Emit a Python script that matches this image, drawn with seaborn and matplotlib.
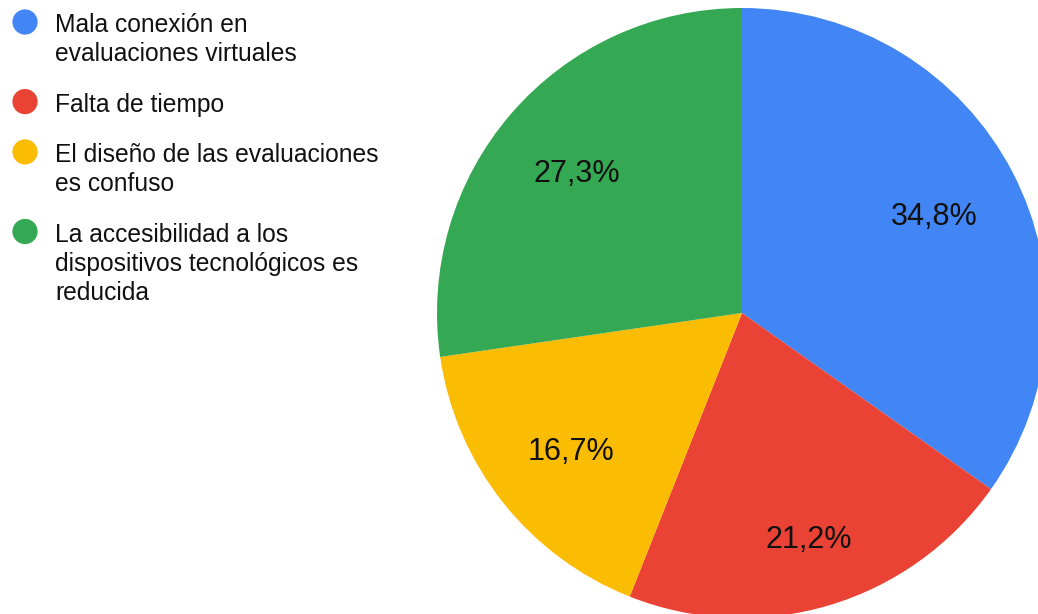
import numpy as np
import matplotlib
matplotlib.use("Agg")
import matplotlib.pyplot as plt
import seaborn as sns

# Data
categorias = [
    "Mala conexión en\nevaluaciones virtuales",
    "Falta de tiempo",
    "El diseño de las evaluaciones\nes confuso",
    "La accesibilidad a los\ndispositivos tecnológicos es\nreducida",
]
porcentajes = [34.8, 21.2, 16.7, 27.3]
colores = ["#4285F4", "#EA4335", "#FBBC04", "#34A853"]
# label distance from centre (fraction of radius), as placed in the original
dist_etiquetas = [0.71, 0.765, 0.716, 0.716]

sns.set_style("white")
plt.rcParams["font.family"] = ["Liberation Sans", "DejaVu Sans"]

W, H = 1038, 614
fig = plt.figure(figsize=(W / 100, H / 100), dpi=100)

# Pie axes: centre (742, 313) px, radius 305 px
cx, cy, r = 742, 313, 305
ax = fig.add_axes([(cx - r) / W, (H - cy - r) / H, 2 * r / W, 2 * r / H])
wedges, texts, autotexts = ax.pie(
    porcentajes,
    colors=colores,
    startangle=90,
    counterclock=False,
    autopct=lambda p: f"{p:.1f}%".replace(".", ","),
    pctdistance=0.71,
    wedgeprops=dict(linewidth=0),
    textprops=dict(fontsize=22, color="#111111"),
)
for w, t, d in zip(wedges, autotexts, dist_etiquetas):
    ang = np.deg2rad((w.theta1 + w.theta2) / 2)
    t.set_position((d * np.cos(ang), d * np.sin(ang)))
    t.set_va("center_baseline")
ax.set_xlim(-1, 1)
ax.set_ylim(-1, 1)
ax.set_aspect("equal")
ax.axis("off")

# Legend in pixel coordinates
lax = fig.add_axes([0, 0, 1, 1])
lax.set_xlim(0, W)
lax.set_ylim(H, 0)
lax.axis("off")
lax.patch.set_alpha(0)

step, gap = 29.3, 21
y = 32
for label, color in zip(categorias, colores):
    lines = label.split("\n")
    lax.scatter([25], [y - 10], s=330, color=color, edgecolor="none")
    for i, line in enumerate(lines):
        lax.text(55, y + i * step, line, fontsize=17.7, color="#111111",
                 ha="left", va="baseline")
    y += len(lines) * step + gap

fig.savefig("out.png", dpi=100)
